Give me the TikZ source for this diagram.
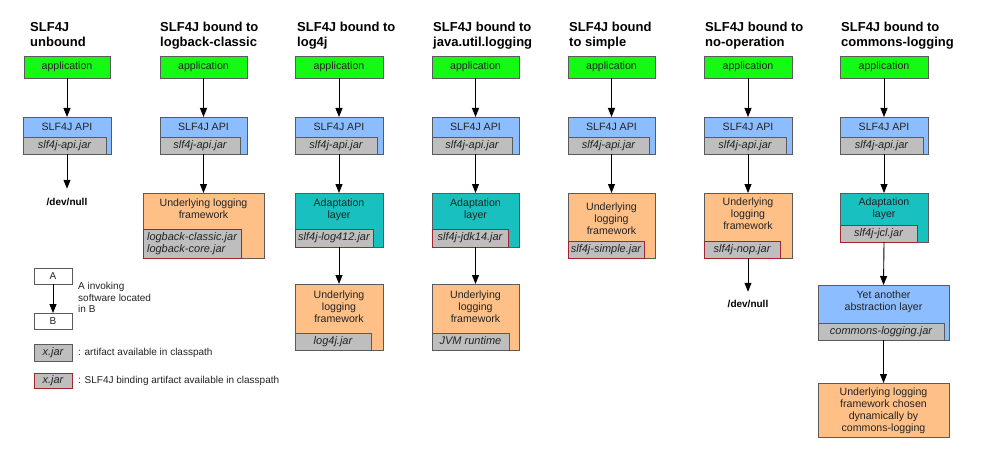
\documentclass[tikz,border=0pt]{standalone}
\usepackage{fontspec}
\setmainfont{Liberation Sans}
\usetikzlibrary{arrows.meta}
\definecolor{appg}{RGB}{20,250,20}
\definecolor{apib}{RGB}{140,190,255}
\definecolor{adpt}{RGB}{25,192,192}
\definecolor{undo}{RGB}{255,192,135}
\definecolor{jarg}{RGB}{190,190,190}
\definecolor{bord}{RGB}{90,90,90}
\definecolor{redb}{RGB}{165,35,45}
\definecolor{txt}{RGB}{35,35,35}
\tikzset{
 basebox/.style={draw=bord, line width=0.8pt, anchor=north west, inner sep=0pt, outer sep=0pt, font=\fontsize{10.6}{12}\selectfont, text=txt},
 appbox/.style={basebox, fill=appg, text height=7.8pt, text depth=2.2pt},
 apibox/.style={basebox, fill=apib},
 adpbox/.style={basebox, fill=adpt},
 undbox/.style={basebox, fill=undo},
 whitebox/.style={basebox, fill=white, font=\fontsize{10}{12}\selectfont, text height=7.2pt, text depth=0pt},
 jarbox/.style={basebox, fill=jarg, font=\fontsize{11}{12}\selectfont\itshape, text height=8pt, text depth=2.2pt},
 jarmulti/.style={basebox, fill=jarg, draw=redb, align=left, font=\fontsize{11}{12}\selectfont\itshape},
 bindbox/.style={jarbox, draw=redb},
 lbl/.style={anchor=base, align=center, inner sep=0pt, font=\fontsize{10.6}{12}\selectfont, text=txt},
 legtxt/.style={anchor=base west, align=left, inner sep=0pt, font=\fontsize{10}{11.7}\selectfont, text=txt},
 ttl/.style={anchor=base west, align=left, inner sep=0pt, font=\fontsize{13}{15}\selectfont\bfseries, text=black},
 nul/.style={anchor=base, inner sep=0pt, outer sep=0pt, font=\fontsize{10}{12}\selectfont\bfseries, text=black},
 arr/.style={-{Triangle[width=7pt,length=9pt]}, line width=0.9pt, black},
}
\begin{document}
\begin{tikzpicture}[x=1pt,y=-1pt]
\fill[white] (0,0) rectangle (1000,457);
\useasboundingbox (0,0) rectangle (1000,457);

% titles (anchor = baseline of last line)
\node[ttl] (t1) at (30,47) {SLF4J\\unbound};
\node[ttl] (t2) at (160,47) {SLF4J bound to\\logback-classic};
\node[ttl] (t3) at (297,47) {SLF4J bound to\\log4j};
\node[ttl] (t4) at (433,47) {SLF4J bound to\\java.util.logging};
\node[ttl] (t5) at (569,47) {SLF4J bound\\to simple};
\node[ttl] (t6) at (705,47) {SLF4J bound to\\no-operation};
\node[ttl] (t7) at (841,47) {SLF4J bound to\\commons-logging};

% column 1
\node[appbox, minimum width=86pt, minimum height=22pt] (app1) at (24,56) {application};
\node[apibox, minimum width=88pt, minimum height=37pt] (api1) at (23,117) {};
\node[lbl] (api1t) at (67,130.5) {SLF4J API};
\node[jarbox, minimum width=83pt, minimum height=17pt] (api1j) at (23,137) {slf4j-api.jar};
\node[nul] (dn1) at (67,205) {/dev/null};
\draw[arr] (app1.south) -- (api1.north);
\draw[arr, shorten >=9pt] (api1.south) -- (dn1.north);

% column 2
\node[appbox, minimum width=87pt, minimum height=22pt] (app2) at (160,56) {application};
\node[apibox, minimum width=87pt, minimum height=37pt] (api2) at (160,117) {};
\node[lbl] (api2t) at (203.5,130.5) {SLF4J API};
\node[jarbox, minimum width=80pt, minimum height=17pt] (api2j) at (160,137) {slf4j-api.jar};
\node[undbox, minimum width=121pt, minimum height=65pt] (und2) at (143,193) {};
\node[lbl] (und2t) at (203.5,218.5) {Underlying logging\\framework};
\node[jarmulti, minimum width=98pt, minimum height=29pt] (und2j) at (143,229) {logback-classic.jar\\logback-core.jar};
\draw[arr] (app2.south) -- (api2.north);
\draw[arr] (api2.south) -- (und2.north);

% column 3
\node[appbox, minimum width=88pt, minimum height=22pt] (app3) at (295,56) {application};
\node[apibox, minimum width=88pt, minimum height=37pt] (api3) at (295,117) {};
\node[lbl] (api3t) at (339,130.5) {SLF4J API};
\node[jarbox, minimum width=82pt, minimum height=17pt] (api3j) at (295,137) {slf4j-api.jar};
\node[adpbox, minimum width=88pt, minimum height=54pt] (adp3) at (295,193) {};
\node[lbl] (adp3t) at (339,218.5) {Adaptation\\layer};
\node[bindbox, minimum width=78pt, minimum height=18pt] (adp3j) at (295,229) {slf4j-log412.jar};
\node[undbox, minimum width=88pt, minimum height=66pt] (und3) at (295,284) {};
\node[lbl] (und3t) at (339,322.5) {Underlying\\logging\\framework};
\node[jarbox, minimum width=76pt, minimum height=17pt] (und3j) at (295,333) {log4j.jar};
\draw[arr] (app3.south) -- (api3.north);
\draw[arr] (api3.south) -- (adp3.north);
\draw[arr] (adp3.south) -- (und3.north);

% column 4
\node[appbox, minimum width=87pt, minimum height=22pt] (app4) at (432,56) {application};
\node[apibox, minimum width=87pt, minimum height=37pt] (api4) at (432,117) {};
\node[lbl] (api4t) at (475.5,130.5) {SLF4J API};
\node[jarbox, minimum width=80pt, minimum height=17pt] (api4j) at (432,137) {slf4j-api.jar};
\node[adpbox, minimum width=87pt, minimum height=54pt] (adp4) at (432,193) {};
\node[lbl] (adp4t) at (475.5,218.5) {Adaptation\\layer};
\node[bindbox, minimum width=76pt, minimum height=18pt] (adp4j) at (432,229) {slf4j-jdk14.jar};
\node[undbox, minimum width=87pt, minimum height=66pt] (und4) at (432,284) {};
\node[lbl] (und4t) at (475.5,322.5) {Underlying\\logging\\framework};
\node[jarbox, minimum width=77pt, minimum height=17pt] (und4j) at (432,333) {JVM runtime};
\draw[arr] (app4.south) -- (api4.north);
\draw[arr] (api4.south) -- (adp4.north);
\draw[arr] (adp4.south) -- (und4.north);

% column 5
\node[appbox, minimum width=87pt, minimum height=22pt] (app5) at (568,56) {application};
\node[apibox, minimum width=87pt, minimum height=37pt] (api5) at (568,117) {};
\node[lbl] (api5t) at (611.5,130.5) {SLF4J API};
\node[jarbox, minimum width=81pt, minimum height=17pt] (api5j) at (568,137) {slf4j-api.jar};
\node[undbox, minimum width=87pt, minimum height=65pt] (und5) at (568,193) {};
\node[lbl] (und5t) at (611.5,234.5) {Underlying\\logging\\framework};
\node[bindbox, minimum width=76pt, minimum height=17pt] (und5j) at (568,241) {slf4j-simple.jar};
\draw[arr] (app5.south) -- (api5.north);
\draw[arr] (api5.south) -- (und5.north);

% column 6
\node[appbox, minimum width=88pt, minimum height=22pt] (app6) at (704,56) {application};
\node[apibox, minimum width=88pt, minimum height=37pt] (api6) at (704,117) {};
\node[lbl] (api6t) at (748,130.5) {SLF4J API};
\node[jarbox, minimum width=82pt, minimum height=17pt] (api6j) at (704,137) {slf4j-api.jar};
\node[undbox, minimum width=88pt, minimum height=65pt] (und6) at (704,193) {};
\node[lbl] (und6t) at (748,229.5) {Underlying\\logging\\framework};
\node[bindbox, minimum width=76pt, minimum height=17pt] (und6j) at (704,241) {slf4j-nop.jar};
\node[nul] (dn6) at (748,307) {/dev/null};
\draw[arr] (app6.south) -- (api6.north);
\draw[arr] (api6.south) -- (und6.north);
\draw[arr, shorten >=8pt] (und6.south) -- (dn6.north);

% column 7
\node[appbox, minimum width=88pt, minimum height=22pt] (app7) at (840,56) {application};
\node[apibox, minimum width=88pt, minimum height=37pt] (api7) at (840,117) {};
\node[lbl] (api7t) at (884,130.5) {SLF4J API};
\node[jarbox, minimum width=83pt, minimum height=17pt] (api7j) at (840,137) {slf4j-api.jar};
\node[adpbox, minimum width=88pt, minimum height=49pt] (adp7) at (840,193) {};
\node[lbl] (adp7t) at (884,217.5) {Adaptation\\layer};
\node[bindbox, minimum width=77pt, minimum height=17pt] (adp7j) at (840,225) {slf4j-jcl.jar};
\node[apibox, minimum width=131pt, minimum height=55pt] (yet7) at (818,285) {};
\node[lbl] (yet7t) at (883.5,310.5) {Yet another\\abstraction layer};
\node[jarbox, minimum width=126pt, minimum height=17pt] (yet7j) at (818,323) {commons-logging.jar};
\node[undbox, minimum width=131pt, minimum height=54pt] (und7) at (818,383) {};
\node[lbl] (und7t) at (883.5,431.5) {Underlying logging\\framework chosen\\dynamically by\\commons-logging};
\draw[arr] (app7.south) -- (api7.north);
\draw[arr] (api7.south) -- (adp7.north);
\draw[arr] (adp7.south) -- (yet7.north);
\draw[arr] (yet7.south) -- (und7.north);

% legend
\node[whitebox, minimum width=38pt, minimum height=16pt] (la) at (34,268) {A};
\node[whitebox, minimum width=38pt, minimum height=16pt] (lb) at (34,313) {B};
\draw[arr] (la.south) -- (lb.north);
\node[legtxt] (labt) at (78,312.9) {A invoking\\software located\\in B};
\node[jarbox, minimum width=38pt, minimum height=17pt] (lj1) at (34,344) {x.jar};
\node[legtxt] (lj1t) at (78,355.5) {: artifact available in classpath};
\node[bindbox, minimum width=38pt, minimum height=15pt] (lj2) at (34,373) {x.jar};
\node[legtxt] (lj2t) at (78,383.5) {: SLF4J binding artifact available in classpath};
\end{tikzpicture}
\end{document}
